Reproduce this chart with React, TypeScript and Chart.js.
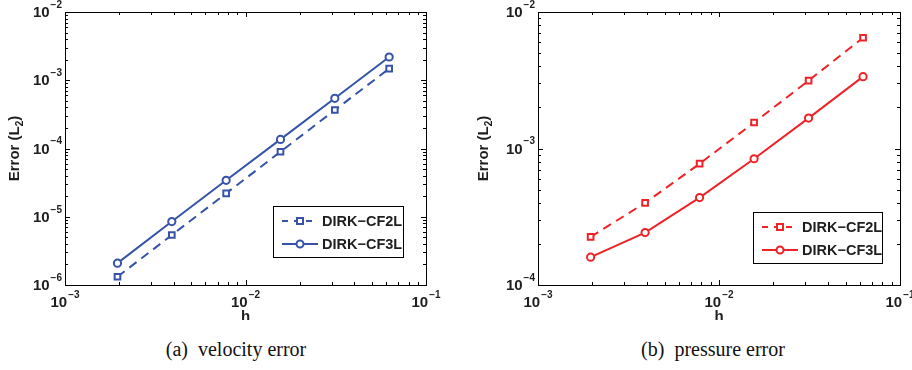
import React, { useEffect, useRef } from "react";
import { Chart, registerables } from "chart.js";

Chart.register(...registerables);

const hValues = [1 / 512, 1 / 256, 1 / 128, 1 / 64, 1 / 32, 1 / 16];
const velCF2L = [1.32e-6, 5.4e-6, 2.2e-5, 8.97e-5, 3.66e-4, 1.48e-3];
const velCF3L = [2.09e-6, 8.5e-6, 3.42e-5, 1.36e-4, 5.44e-4, 2.19e-3];
const presCF2L = [2.25e-4, 4.0e-4, 7.74e-4, 1.55e-3, 3.14e-3, 6.48e-3];
const presCF3L = [1.6e-4, 2.42e-4, 4.37e-4, 8.41e-4, 1.67e-3, 3.36e-3];
const xTickExps = [-3, -2, -1];
const velYTickExps = [-6, -5, -4, -3, -2];
const presYTickExps = [-4, -3, -2];
const seriesNames = ["DIRK−CF2L", "DIRK−CF3L"];
const captions = ["(a)  velocity error", "(b)  pressure error"];

const BLUE = "#3653a8";
const RED = "#ee2327";
const TXT = "#1e1e1e";
const FONT = '"Liberation Sans", Arial, sans-serif';

type PanelCfg = {
  cf2: number[];
  cf3: number[];
  color: string;
  yExps: number[];
  padLeft: number;
  yAxisW: number;
  padRight: number;
  legend: { x: number; y: number; w: number; h: number };
  ylabelX: number;
};

function drawPow(ctx: CanvasRenderingContext2D, exp: number, x: number, y: number, align: "center" | "right") {
  const base = "10";
  const sup = "−" + Math.abs(exp);
  ctx.font = `bold 15px ${FONT}`;
  const bw = ctx.measureText(base).width;
  ctx.font = `bold 10px ${FONT}`;
  const sw = ctx.measureText(sup).width;
  const total = bw + sw + 1;
  let left = align === "center" ? x - total / 2 : x - total;
  ctx.fillStyle = TXT;
  ctx.textAlign = "left";
  ctx.textBaseline = "middle";
  ctx.font = `bold 15px ${FONT}`;
  ctx.fillText(base, left, y);
  ctx.font = `bold 10px ${FONT}`;
  ctx.fillText(sup, left + bw + 1, y - 8);
}

function makePlugin(cfg: PanelCfg) {
  return {
    id: "custom" + cfg.color,
    afterDraw(chart: any) {
      const ctx: CanvasRenderingContext2D = chart.ctx;
      const xs = chart.scales.x;
      const ys = chart.scales.y;
      const a = chart.chartArea;
      ctx.save();
      ctx.strokeStyle = "#000";
      ctx.lineWidth = 1;
      ctx.strokeRect(Math.round(a.left) + 0.5, Math.round(a.top) + 0.5, Math.round(a.right - a.left), Math.round(a.bottom - a.top));
      const xmin = xs.min, xmax = xs.max;
      ctx.beginPath();
      for (let d = Math.floor(Math.log10(xmin)); d < Math.ceil(Math.log10(xmax)) + 1; d++) {
        for (let k = 1; k <= 9; k++) {
          const v = k * Math.pow(10, d);
          if (v < xmin * 0.999 || v > xmax * 1.001) continue;
          const px = Math.round(xs.getPixelForValue(v)) + 0.5;
          const len = k === 1 ? 5 : 3;
          ctx.moveTo(px, a.bottom);
          ctx.lineTo(px, a.bottom - len);
          ctx.moveTo(px, a.top);
          ctx.lineTo(px, a.top + len);
        }
      }
      const ymin = ys.min, ymax = ys.max;
      for (let d = Math.floor(Math.log10(ymin)); d < Math.ceil(Math.log10(ymax)) + 1; d++) {
        for (let k = 1; k <= 9; k++) {
          const v = k * Math.pow(10, d);
          if (v < ymin * 0.999 || v > ymax * 1.001) continue;
          const py = Math.round(ys.getPixelForValue(v)) + 0.5;
          const len = k === 1 ? 5 : 3;
          ctx.moveTo(a.left, py);
          ctx.lineTo(a.left + len, py);
          ctx.moveTo(a.right, py);
          ctx.lineTo(a.right - len, py);
        }
      }
      ctx.stroke();
      xTickExps.forEach((e) => {
        drawPow(ctx, e, xs.getPixelForValue(Math.pow(10, e)), a.bottom + 18, "center");
      });
      cfg.yExps.forEach((e) => {
        drawPow(ctx, e, a.left - 3, ys.getPixelForValue(Math.pow(10, e)) + 1, "right");
      });
      ctx.fillStyle = TXT;
      ctx.font = `bold 15px ${FONT}`;
      ctx.textAlign = "center";
      ctx.textBaseline = "middle";
      ctx.fillText("h", (a.left + a.right) / 2, a.bottom + 32);
      ctx.save();
      ctx.translate(cfg.ylabelX, (a.top + a.bottom) / 2);
      ctx.rotate(-Math.PI / 2);
      const main = "Error (L";
      ctx.font = `bold 15px ${FONT}`;
      const mw = ctx.measureText(main).width;
      ctx.font = `bold 10px ${FONT}`;
      const sw = ctx.measureText("2").width;
      ctx.font = `bold 15px ${FONT}`;
      const lx = -(mw + sw + ctx.measureText(")").width) / 2;
      ctx.textAlign = "left";
      ctx.fillText(main, lx, 0);
      ctx.font = `bold 10px ${FONT}`;
      ctx.fillText("2", lx + mw, 5);
      ctx.font = `bold 15px ${FONT}`;
      ctx.fillText(")", lx + mw + sw, 0);
      ctx.restore();
      const L = cfg.legend;
      ctx.fillStyle = "#fff";
      ctx.fillRect(L.x, L.y, L.w, L.h);
      ctx.strokeStyle = "#000";
      ctx.lineWidth = 1;
      ctx.strokeRect(L.x + 0.5, L.y + 0.5, L.w, L.h);
      const rows = [L.y + 15, L.y + 38];
      rows.forEach((ry, i) => {
        ctx.strokeStyle = cfg.color;
        ctx.lineWidth = 2;
        ctx.setLineDash(i === 0 ? [6, 6] : []);
        ctx.beginPath();
        ctx.moveTo(L.x + 9, ry);
        ctx.lineTo(L.x + 45, ry);
        ctx.stroke();
        ctx.setLineDash([]);
        ctx.fillStyle = "#fff";
        ctx.beginPath();
        if (i === 0) {
          ctx.rect(L.x + 27 - 3, ry - 3, 6, 6);
        } else {
          ctx.arc(L.x + 27, ry, 3.5, 0, Math.PI * 2);
        }
        ctx.fill();
        ctx.stroke();
        ctx.fillStyle = TXT;
        ctx.font = `bold 14.5px ${FONT}`;
        ctx.textAlign = "left";
        ctx.textBaseline = "middle";
        ctx.fillText(seriesNames[i], L.x + 49, ry + 1);
      });
      ctx.restore();
    },
  };
}

function Panel({ cfg, left }: { cfg: PanelCfg; left: number }) {
  const ref = useRef<HTMLCanvasElement>(null);
  useEffect(() => {
    if (!ref.current) return;
    const mk = (vals: number[]) => hValues.map((h, i) => ({ x: h, y: vals[i] }));
    const chart = new Chart(ref.current, {
      type: "line",
      data: {
        datasets: [
          {
            label: seriesNames[0],
            data: mk(cfg.cf2),
            borderColor: cfg.color,
            backgroundColor: "#fff",
            borderWidth: 2,
            borderDash: [9, 6],
            pointStyle: "rect",
            pointRadius: 4,
            pointBorderWidth: 2,
            pointBorderColor: cfg.color,
            pointBackgroundColor: "#fff",
          },
          {
            label: seriesNames[1],
            data: mk(cfg.cf3),
            borderColor: cfg.color,
            backgroundColor: "#fff",
            borderWidth: 2,
            pointStyle: "circle",
            pointRadius: 3.6,
            pointBorderWidth: 2,
            pointBorderColor: cfg.color,
            pointBackgroundColor: "#fff",
          },
        ],
      },
      options: {
        animation: false,
        responsive: false,
        maintainAspectRatio: false,
        layout: { padding: { left: cfg.padLeft, top: 12, right: cfg.padRight, bottom: 0 } },
        plugins: { legend: { display: false }, tooltip: { enabled: false } },
        scales: {
          x: {
            type: "logarithmic",
            min: 1e-3,
            max: 1e-1,
            ticks: { display: false },
            grid: { display: false },
            border: { display: false },
            afterFit: (s: any) => {
              s.height = 35;
            },
          },
          y: {
            type: "logarithmic",
            min: Math.pow(10, cfg.yExps[0]),
            max: Math.pow(10, cfg.yExps[cfg.yExps.length - 1]),
            ticks: { display: false },
            grid: { display: false },
            border: { display: false },
            afterFit: (s: any) => {
              s.width = cfg.yAxisW;
            },
          },
        },
      },
      plugins: [makePlugin(cfg)],
    } as any);
    return () => chart.destroy();
  }, []);
  return (
    <canvas
      ref={ref}
      width={456}
      height={320}
      style={{ position: "absolute", left, top: 0, width: 456, height: 320 }}
    />
  );
}

export default function App() {
  useEffect(() => {
    document.body.style.margin = "0";
  }, []);
  const leftCfg: PanelCfg = {
    cf2: velCF2L,
    cf3: velCF3L,
    color: BLUE,
    yExps: velYTickExps,
    padLeft: 0,
    yAxisW: 65,
    padRight: 30,
    legend: { x: 273, y: 206, w: 130, h: 51 },
    ylabelX: 15,
  };
  const rightCfg: PanelCfg = {
    cf2: presCF2L,
    cf3: presCF3L,
    color: RED,
    yExps: presYTickExps,
    padLeft: 0,
    yAxisW: 82,
    padRight: 12,
    legend: { x: 297, y: 212, w: 129, h: 51 },
    ylabelX: 28,
  };
  const capStyle: React.CSSProperties = {
    position: "absolute",
    top: 337,
    fontFamily: '"Liberation Serif", "Times New Roman", serif',
    fontSize: 20,
    lineHeight: "24px",
    color: "#111",
    whiteSpace: "pre",
    transform: "translateX(-50%)",
  };
  return (
    <div style={{ position: "relative", width: 912, height: 370, background: "#fff", overflow: "hidden" }}>
      <Panel cfg={leftCfg} left={0} />
      <Panel cfg={rightCfg} left={456} />
      <div style={{ ...capStyle, left: 236 }}>{captions[0]}</div>
      <div style={{ ...capStyle, left: 713 }}>{captions[1]}</div>
    </div>
  );
}
